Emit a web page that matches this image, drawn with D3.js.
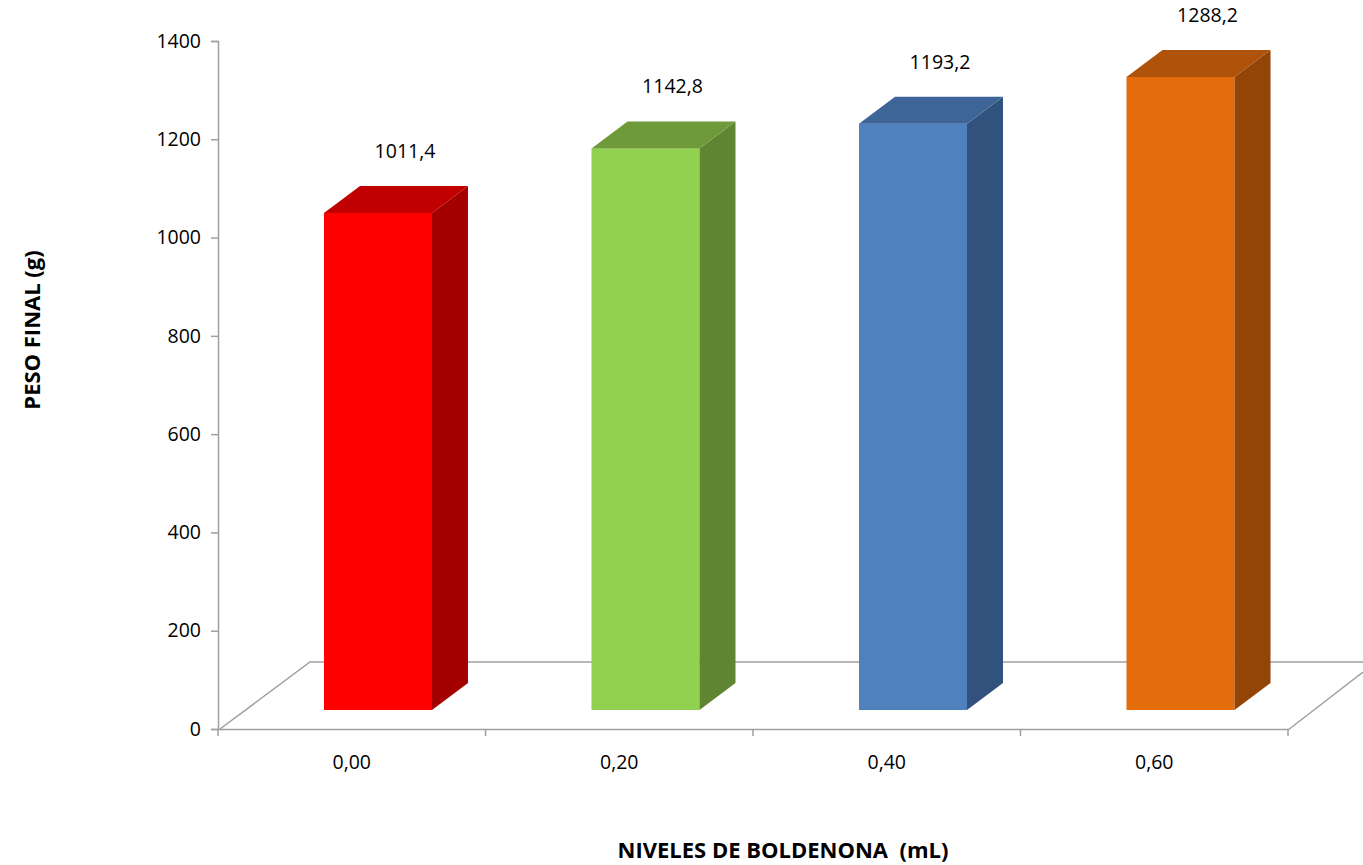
<!DOCTYPE html>
<html><head><meta charset="utf-8">
<script src="https://cdn.jsdelivr.net/npm/d3@7"></script>
<style>body{margin:0;background:#fff}svg{font-family:"Open Sans",sans-serif}</style>
</head><body><svg id="c" width="1363" height="865"></svg>
<script>
const categories = ['0,00', '0,20', '0,40', '0,60'];
const values = [1011.4, 1142.8, 1193.2, 1288.2];
const yTicks = [0, 200, 400, 600, 800, 1000, 1200, 1400];
const frontColors = ['#FF0000', '#92D050', '#4F81BD', '#E46C0A'];
const sideColors = ['#A50000', '#5F8532', '#30527C', '#934407'];
const topColors = ['#C00000', '#6F9A3A', '#3D6597', '#B0530A'];

const svg = d3.select('#c');
const GRAY = '#A0A0A0';
const FS = 19.5;
const x0 = 218, x1 = 1288, axisBottom = 729;
const x = d3.scaleBand().domain(categories).range([x0, x1]);
const y = d3.scaleLinear().domain([0, 1400]).range([axisBottom, 41]);
// bars sit on the receding floor
const barBase = 710;
const barScale = (axisBottom - 41) / 1400;
const barY = v => barBase - v * barScale;
const dx = 36, dy = 27, barW = 108;

// floor
const floor = svg.append('g').attr('stroke', GRAY).attr('stroke-width', 1.5).attr('fill', 'none');
floor.append('path').attr('d', `M${x0 + 2},${axisBottom} L310,662 L1363,662`);
floor.append('path').attr('d', `M${x1},${axisBottom + 1} L1363,672`);

// y axis
svg.append('g').attr('transform', `translate(${x0},0)`)
  .call(d3.axisLeft(y).tickValues(yTicks).tickSize(7).tickPadding(10).tickFormat(d3.format('d')))
  .call(a => a.selectAll('path,line').attr('stroke', GRAY).attr('stroke-width', 1.5))
  .call(a => a.selectAll('text').attr('font-size', FS).attr('fill', '#000').attr('font-family', 'Open Sans'));

// x axis
svg.append('g').attr('transform', `translate(0,${axisBottom})`)
  .call(d3.axisBottom(x).tickSize(0).tickPadding(26))
  .call(a => a.select('.domain').attr('stroke', GRAY).attr('stroke-width', 1.5))
  .call(a => a.selectAll('text').attr('font-size', FS).attr('fill', '#000').attr('font-family', 'Open Sans'));
svg.append('g').selectAll('line').data([...categories.map(c => x(c)), x1]).join('line')
  .attr('x1', d => d).attr('x2', d => d).attr('y1', axisBottom).attr('y2', axisBottom + 7)
  .attr('stroke', GRAY).attr('stroke-width', 1.5);

// bars
const bars = svg.append('g').selectAll('g').data(values).join('g');
bars.each(function (v, i) {
  const g = d3.select(this);
  const bx = x(categories[i]) + 106, top = barY(v);
  g.append('rect').attr('x', bx).attr('y', top).attr('width', barW).attr('height', barBase - top).attr('fill', frontColors[i]);
  g.append('path').attr('fill', sideColors[i])
    .attr('d', `M${bx + barW},${top} L${bx + barW + dx},${top - dy} L${bx + barW + dx},${barBase - dy} L${bx + barW},${barBase}Z`);
  g.append('path').attr('fill', topColors[i])
    .attr('d', `M${bx},${top} L${bx + dx},${top - dy} L${bx + barW + dx},${top - dy} L${bx + barW},${top}Z`);
  g.append('text').attr('x', bx + 81).attr('y', top - 55).attr('text-anchor', 'middle')
    .attr('font-size', FS).text(d3.format('.1f')(v).replace('.', ','));
});

// titles
svg.append('text').attr('transform', 'translate(40,330) rotate(-90)').attr('text-anchor', 'middle')
  .attr('font-size', 22).attr('font-weight', 'bold').text('PESO FINAL (g)');
svg.append('text').attr('x', 783).attr('y', 858).attr('text-anchor', 'middle')
  .attr('font-size', 22).attr('font-weight', 'bold').attr('xml:space', 'preserve').text('NIVELES DE BOLDENONA  (mL)');
</script></body></html>
